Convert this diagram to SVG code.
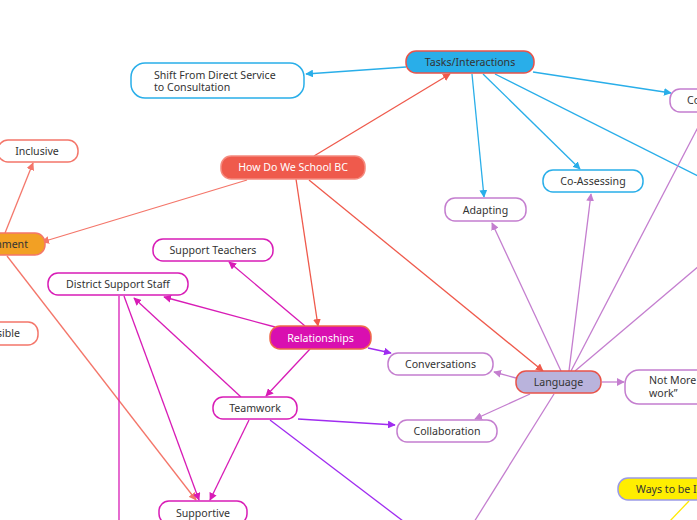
<svg xmlns="http://www.w3.org/2000/svg" width="697" height="520" viewBox="0 0 697 520">
<defs>
<style>
text{font-family:"Noto Sans","DejaVu Sans",sans-serif;font-size:10.6px;fill:#333}
.n{stroke-width:1.5}
.w{fill:#fff}
.c{text-anchor:middle}
.e{fill:none;stroke-width:1.3}
.red{stroke:#ef5a4c}
.sal{stroke:#f4766a}
.blu{stroke:#29aee9}
.pur{stroke:#c47ecf}
.mag{stroke:#d81cb6}
.vio{stroke:#a02cf0}
.yel{stroke:#ffe900}
</style>
<marker id="aRed" viewBox="0 0 10 10" refX="9" refY="5" markerWidth="6" markerHeight="6" orient="auto"><path d="M0,0L10,5L0,10z" fill="#ef5a4c"/></marker>
<marker id="aSal" viewBox="0 0 10 10" refX="9" refY="5" markerWidth="6" markerHeight="6" orient="auto"><path d="M0,0L10,5L0,10z" fill="#f4766a"/></marker>
<marker id="aBlu" viewBox="0 0 10 10" refX="9" refY="5" markerWidth="6" markerHeight="6" orient="auto"><path d="M0,0L10,5L0,10z" fill="#29aee9"/></marker>
<marker id="aPur" viewBox="0 0 10 10" refX="9" refY="5" markerWidth="6" markerHeight="6" orient="auto"><path d="M0,0L10,5L0,10z" fill="#c47ecf"/></marker>
<marker id="aMag" viewBox="0 0 10 10" refX="9" refY="5" markerWidth="6" markerHeight="6" orient="auto"><path d="M0,0L10,5L0,10z" fill="#d81cb6"/></marker>
<marker id="aVio" viewBox="0 0 10 10" refX="9" refY="5" markerWidth="6" markerHeight="6" orient="auto"><path d="M0,0L10,5L0,10z" fill="#a02cf0"/></marker>
</defs>
<rect width="697" height="520" fill="#fff"/>
<g id="connectors">
<line class="e red" x1="314" y1="156" x2="450" y2="74" marker-end="url(#aRed)"/>
<line class="e sal" x1="247" y1="180" x2="42" y2="242" marker-end="url(#aSal)"/>
<line class="e red" x1="296" y1="179" x2="318" y2="326" marker-end="url(#aRed)"/>
<line class="e red" x1="309" y1="180" x2="543" y2="371" marker-end="url(#aRed)"/>
<line class="e sal" x1="5" y1="233" x2="33" y2="163" marker-end="url(#aSal)"/>
<line class="e sal" x1="7" y1="256" x2="196" y2="500" marker-end="url(#aSal)"/>
<line class="e blu" x1="406" y1="67" x2="306" y2="74" marker-end="url(#aBlu)"/>
<line class="e blu" x1="533" y1="72" x2="671" y2="93" marker-end="url(#aBlu)"/>
<line class="e blu" x1="483" y1="74" x2="580" y2="169" marker-end="url(#aBlu)"/>
<line class="e blu" x1="472" y1="74" x2="484" y2="197" marker-end="url(#aBlu)"/>
<line class="e blu" x1="495" y1="74" x2="700" y2="177"/>
<line class="e pur" x1="561" y1="371" x2="492" y2="223" marker-end="url(#aPur)"/>
<line class="e pur" x1="569" y1="371" x2="591" y2="194" marker-end="url(#aPur)"/>
<line class="e pur" x1="571" y1="371" x2="708" y2="108"/>
<line class="e pur" x1="575" y1="371" x2="700" y2="265"/>
<line class="e pur" x1="516" y1="378" x2="494" y2="372" marker-end="url(#aPur)"/>
<line class="e pur" x1="530" y1="394" x2="475" y2="419" marker-end="url(#aPur)"/>
<line class="e pur" x1="602" y1="382" x2="624" y2="382" marker-end="url(#aPur)"/>
<line class="e pur" x1="554" y1="394" x2="474" y2="522"/>
<line class="e mag" x1="305" y1="326" x2="229" y2="262" marker-end="url(#aMag)"/>
<line class="e mag" x1="275" y1="327" x2="164" y2="297" marker-end="url(#aMag)"/>
<line class="e mag" x1="310" y1="349" x2="266" y2="396" marker-end="url(#aMag)"/>
<line class="e vio" x1="368" y1="348" x2="391" y2="353" marker-end="url(#aVio)"/>
<line class="e mag" x1="241" y1="397" x2="134" y2="298" marker-end="url(#aMag)"/>
<line class="e mag" x1="249" y1="420" x2="210" y2="500" marker-end="url(#aMag)"/>
<line class="e vio" x1="298" y1="419" x2="395" y2="425" marker-end="url(#aVio)"/>
<line class="e vio" x1="270" y1="420" x2="403" y2="521"/>
<line class="e mag" x1="119" y1="296" x2="119" y2="521"/>
<line class="e mag" x1="124" y1="296" x2="199" y2="500" marker-end="url(#aMag)"/>
<line class="e yel" x1="689" y1="501" x2="669" y2="522"/>
</g>
<g id="tasks"><rect class="n" x="406" y="51" width="128" height="22" rx="10" fill="#29aee9" stroke="#e8534a"/><text class="c" x="470" y="65.5">Tasks/Interactions</text></g>
<g id="shift"><rect class="n w" x="131" y="63" width="173" height="35" rx="14" stroke="#29aee9"/><text x="154" y="78.5">Shift From Direct Service</text><text x="154" y="91">to Consultation</text></g>
<g id="school"><rect class="n" x="221" y="156" width="144" height="23" rx="10" fill="#ef5a4c" stroke="#f58b7f"/><text class="c" x="293" y="171" style="fill:#fff">How Do We School BC</text></g>
<g id="co"><rect class="n w" x="670" y="89" width="60" height="23" rx="10" stroke="#c47ecf"/><text x="687" y="104">Co</text></g>
<g id="coassessing"><rect class="n w" x="543" y="170" width="100" height="22" rx="10" stroke="#29aee9"/><text class="c" x="593" y="185">Co-Assessing</text></g>
<g id="adapting"><rect class="n w" x="445" y="198" width="81" height="23" rx="10" stroke="#c47ecf"/><text class="c" x="485.5" y="213.5">Adapting</text></g>
<g id="inclusive"><rect class="n w" x="-2" y="140" width="80" height="22" rx="10" stroke="#f4766a"/><text class="c" x="37" y="155">Inclusive</text></g>
<g id="environment"><rect class="n" x="-60" y="233" width="105" height="22" rx="10" fill="#f2a024" stroke="#f4766a"/><text x="28" y="248" style="text-anchor:end">Environment</text></g>
<g id="accessible"><rect class="n w" x="-60" y="322" width="98" height="23" rx="10" stroke="#f4766a"/><text x="20" y="337" style="text-anchor:end">Accessible</text></g>
<g id="supportteachers"><rect class="n w" x="153" y="239" width="120" height="22" rx="10" stroke="#d81cb6"/><text class="c" x="213" y="254">Support Teachers</text></g>
<g id="district"><rect class="n w" x="48" y="273" width="140" height="22" rx="10" stroke="#d81cb6"/><text class="c" x="118" y="288">District Support Staff</text></g>
<g id="relationships"><rect class="n" x="270" y="326" width="101" height="23" rx="10" fill="#d90fb0" stroke="#f06a4a"/><text class="c" x="320.5" y="341.5" style="fill:#fff">Relationships</text></g>
<g id="conversations"><rect class="n w" x="388" y="353" width="105" height="22" rx="10" stroke="#c47ecf"/><text class="c" x="440.5" y="368">Conversations</text></g>
<g id="language"><rect class="n" x="516" y="371" width="85" height="22" rx="10" fill="#b9b3dc" stroke="#e8534a"/><text class="c" x="558.5" y="386">Language</text></g>
<g id="notmore"><rect class="n w" x="625" y="370" width="110" height="34" rx="14" stroke="#c47ecf"/><text x="649" y="384">Not More</text><text x="649" y="397">work”</text></g>
<g id="teamwork"><rect class="n w" x="213" y="397" width="84" height="22" rx="10" stroke="#d81cb6"/><text class="c" x="255" y="412">Teamwork</text></g>
<g id="collaboration"><rect class="n w" x="397" y="420" width="100" height="22" rx="10" stroke="#c47ecf"/><text class="c" x="447" y="435">Collaboration</text></g>
<g id="supportive"><rect class="n w" x="159" y="501" width="88" height="23" rx="10" stroke="#d81cb6"/><text class="c" x="203" y="516.5">Supportive</text></g>
<g id="ways"><rect class="n" x="618" y="478" width="110" height="22" rx="10" fill="#ffee00" stroke="#9a9ae8"/><text x="636" y="493">Ways to be I</text></g>
</svg>
